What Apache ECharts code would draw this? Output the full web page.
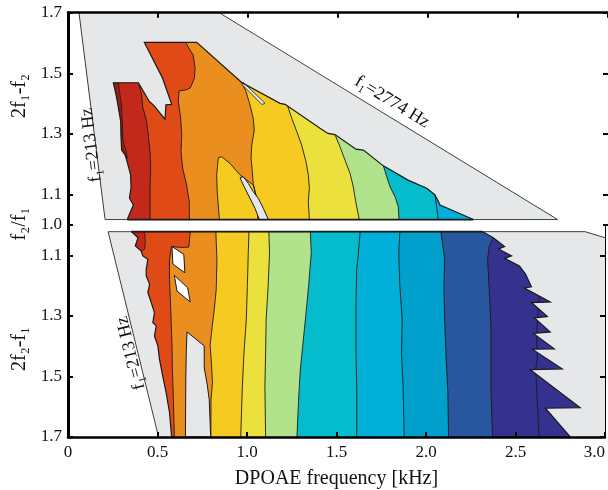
<!DOCTYPE html>
<html>
<head>
<meta charset="utf-8">
<script src="https://cdn.jsdelivr.net/npm/echarts@6/dist/echarts.min.js"></script>
<style>
  html, body { margin: 0; padding: 0; background: #fff; }
  #chart { width: 608px; height: 490px; }
</style>
</head>
<body>
<div id="chart"></div>
<script>
// x = DPOAE frequency [kHz], y = f2/f1
// ---- upper panel (2f1-f2) ----
var upperDomain = [[0.061, 1.7], [0.84, 1.7], [2.72, 1.018], [0.206, 1.018]]
var upperEdge = [
  [0.329, 1.018], [0.363, 1.066], [0.341, 1.089], [0.350, 1.122], [0.348, 1.165], [0.326, 1.214],
  [0.317, 1.231], [0.298, 1.247], [0.294, 1.297], [0.293, 1.341], [0.279, 1.390], [0.267, 1.429],
  [0.252, 1.469], [0.391, 1.469], [0.452, 1.407], [0.474, 1.396], [0.539, 1.349], [0.544, 1.396],
  [0.576, 1.398], [0.524, 1.486], [0.424, 1.602], [0.715, 1.602], [0.965, 1.470], [1.178, 1.401],
  [1.206, 1.398], [1.400, 1.319], [1.444, 1.302], [1.483, 1.298], [1.600, 1.250], [1.641, 1.247],
  [1.752, 1.195], [1.889, 1.148], [1.993, 1.121], [2.039, 1.099], [2.067, 1.066], [2.252, 1.018]
]
var upperC1 = [[0.391, 1.469], [0.400, 1.451], [0.409, 1.429], [0.415, 1.390], [0.437, 1.341], [0.446, 1.297], [0.456, 1.242], [0.459, 1.187], [0.456, 1.132], [0.456, 1.018]]
var upperC2 = [[0.656, 1.599], [0.678, 1.577], [0.696, 1.560], [0.706, 1.517], [0.702, 1.484], [0.687, 1.462], [0.678, 1.451], [0.650, 1.445], [0.617, 1.442], [0.613, 1.407], [0.626, 1.352], [0.632, 1.297], [0.628, 1.242], [0.637, 1.187], [0.659, 1.132], [0.674, 1.077], [0.674, 1.018]]
var upperC3 = [[0.965, 1.470], [0.989, 1.440], [1.011, 1.396], [1.029, 1.352], [1.035, 1.313], [1.021, 1.264], [1.017, 1.220], [1.024, 1.176], [1.029, 1.137], [1.044, 1.099], [1.057, 1.018]]
var upperC4 = [[1.218, 1.396], [1.243, 1.352], [1.271, 1.308], [1.298, 1.264], [1.322, 1.209], [1.335, 1.165], [1.341, 1.121], [1.335, 1.077], [1.341, 1.018]]
var upperC5 = [[1.483, 1.298], [1.511, 1.258], [1.539, 1.214], [1.567, 1.170], [1.585, 1.126], [1.594, 1.093], [1.604, 1.060], [1.618, 1.018]]
var upperC6 = [[1.752, 1.195], [1.771, 1.159], [1.789, 1.126], [1.817, 1.093], [1.835, 1.060], [1.839, 1.018]]
var upperC7 = [[2.039, 1.099], [2.048, 1.060], [2.057, 1.018]]
var upperTongue = [[0.841, 1.018], [0.829, 1.110], [0.826, 1.165], [0.835, 1.222], [0.854, 1.225], [0.900, 1.203], [0.956, 1.165], [1.029, 1.132], [1.044, 1.099], [1.057, 1.018]]
var upperHole = [[0.956, 1.156], [0.974, 1.159], [1.002, 1.137], [1.029, 1.110], [1.057, 1.088], [1.085, 1.055], [1.113, 1.018], [1.063, 1.018], [1.039, 1.055], [1.011, 1.088], [0.983, 1.121], [0.965, 1.143]]
var upperSlit = [[0.972, 1.471], [1.094, 1.402], [1.078, 1.397], [0.967, 1.463]]
var upperDarkest = [[0.252, 1.469], [0.280, 1.468], [0.296, 1.400], [0.302, 1.340], [0.305, 1.280], [0.322, 1.245], [0.330, 1.220], [0.317, 1.231], [0.298, 1.247], [0.294, 1.297], [0.293, 1.341], [0.279, 1.390], [0.267, 1.429]]

// ---- lower panel (2f2-f1) ----
var lowerDomainLeft = [[0.224, 1.022], [0.506, 1.7]]
var lowerDomainRight = [[2.889, 1.022], [3.0, 1.042]]
var lowerLeftEdge = [
  [0.354, 1.022], [0.391, 1.042], [0.376, 1.069], [0.409, 1.086], [0.418, 1.102], [0.446, 1.113],
  [0.437, 1.146], [0.437, 1.168], [0.456, 1.196], [0.446, 1.223], [0.465, 1.256], [0.483, 1.289],
  [0.474, 1.322], [0.493, 1.333], [0.483, 1.366], [0.502, 1.399], [0.511, 1.443], [0.529, 1.498],
  [0.548, 1.553], [0.567, 1.619], [0.579, 1.7]
]
var lowerRightEdge = [
  [2.317, 1.022], [2.378, 1.043], [2.439, 1.071], [2.406, 1.079], [2.478, 1.102], [2.439, 1.110],
  [2.522, 1.135], [2.556, 1.162], [2.589, 1.204], [2.550, 1.208], [2.694, 1.254], [2.589, 1.256],
  [2.678, 1.302], [2.606, 1.307], [2.694, 1.353], [2.600, 1.358], [2.717, 1.409], [2.594, 1.410],
  [2.761, 1.475], [2.583, 1.478], [2.861, 1.603], [2.667, 1.605], [2.806, 1.7]
]
var lowerC2 = [[0.683, 1.022], [0.679, 1.049], [0.675, 1.073], [0.628, 1.074], [0.578, 1.071], [0.567, 1.115], [0.567, 1.181], [0.572, 1.247], [0.576, 1.313], [0.581, 1.396], [0.583, 1.478], [0.589, 1.577], [0.594, 1.7]]
var lowerC3 = [[0.826, 1.022], [0.832, 1.115], [0.828, 1.214], [0.817, 1.280], [0.806, 1.333], [0.794, 1.396], [0.800, 1.445], [0.807, 1.520], [0.799, 1.577], [0.798, 1.7]]
var lowerC4 = [[1.011, 1.022], [1.007, 1.093], [1.002, 1.203], [0.996, 1.313], [0.983, 1.423], [0.974, 1.533], [0.971, 1.588], [0.965, 1.7]]
var lowerC5 = [[1.122, 1.022], [1.126, 1.092], [1.118, 1.203], [1.107, 1.313], [1.104, 1.423], [1.100, 1.533], [1.104, 1.7]]
var lowerC6 = [[1.354, 1.022], [1.359, 1.092], [1.344, 1.203], [1.326, 1.313], [1.311, 1.401], [1.298, 1.478], [1.289, 1.566], [1.279, 1.7]]
var lowerC7 = [[1.632, 1.022], [1.622, 1.093], [1.613, 1.148], [1.609, 1.257], [1.609, 1.423], [1.613, 1.533], [1.613, 1.7]]
var lowerC8 = [[1.854, 1.022], [1.848, 1.093], [1.854, 1.203], [1.867, 1.313], [1.863, 1.423], [1.872, 1.533], [1.878, 1.7]]
var lowerC9 = [[2.083, 1.022], [2.094, 1.069], [2.104, 1.113], [2.100, 1.203], [2.104, 1.311], [2.113, 1.443], [2.122, 1.553], [2.126, 1.7]]
var lowerC10 = [[2.372, 1.022], [2.372, 1.047], [2.354, 1.069], [2.344, 1.113], [2.354, 1.223], [2.363, 1.333], [2.363, 1.443], [2.363, 1.553], [2.372, 1.7]]
var lowerC11 = [[2.632, 1.234], [2.622, 1.311], [2.618, 1.388], [2.622, 1.443], [2.613, 1.476], [2.632, 1.7]]
var lowerDarkRed = [[0.354, 1.022], [0.428, 1.022], [0.432, 1.053], [0.428, 1.080], [0.409, 1.086], [0.376, 1.069], [0.391, 1.042]]
var lowerBox1 = [[0.581, 1.071], [0.647, 1.097], [0.653, 1.158], [0.586, 1.129]]
var lowerBox2 = [[0.594, 1.166], [0.668, 1.207], [0.683, 1.254], [0.609, 1.218]]
var lowerWedge = [[0.665, 1.353], [0.761, 1.399], [0.761, 1.471], [0.778, 1.528], [0.789, 1.577], [0.797, 1.7], [0.656, 1.7], [0.658, 1.511], [0.661, 1.412]]

var yTicksUpper = [1.0, 1.1, 1.3, 1.5, 1.7]
var yTicksLower = [1.1, 1.3, 1.5, 1.7]

// colours of the filled levels, low to high frequency
var C = {
  darkest: '#9e1d13', darkred: '#c3291a', red: '#e04a17', orange: '#ea8f1f', gold: '#f5cb22',
  yellow: '#ece03d', green: '#b1e38d', cyan: '#05bccc', lblue: '#00b0d9', blue: '#009fcc',
  mblue: '#28579f', indigo: '#35318f', gray: '#e6e7e9'
}
var LINE = '#1a1a1a'
var SERIF = '"Liberation Serif", "DejaVu Serif", serif'

function band(line, yA, yB, color) {
  var pts = line.slice()
  if (pts[0][1] !== yA) pts.unshift([pts[0][0], yA])
  return { pts: pts.concat([[3, yB], [3, yA]]), fill: color }
}
function rect(yA, yB, color) {
  return { pts: [[0, yA], [3, yA], [3, yB], [0, yB]], fill: color }
}
function stroke(pts, w) {
  return { pts: pts, stroke: LINE, width: w }
}
function extend(line, yA) {
  return line[0][1] === yA ? line : [[line[0][0], yA]].concat(line)
}

// upper panel, painted in order
var uC = [upperC1, upperC2, upperC3, upperC4, upperC5, upperC6, upperC7]
var uColors = [C.red, C.orange, C.gold, C.yellow, C.green, C.cyan, C.lblue]
var upperShapes = [rect(1.7, 1.018, C.darkred)]
uC.forEach(function (c, i) { upperShapes.push(band(c, 1.7, 1.018, uColors[i])) })
upperShapes.push({ pts: upperTongue, fill: C.gold })
upperShapes.push({ pts: upperDarkest, fill: C.darkest, stroke: LINE, width: 0.8 })
uC.forEach(function (c) { upperShapes.push(stroke(extend(c, 1.7), 0.9)) })
upperShapes.push(stroke(upperTongue, 0.9))
upperShapes.push({ pts: [[0, 1.7], upperDomain[0], upperDomain[3], [upperDomain[3][0], 1.0], [0, 1.0]], fill: '#fff' })
upperShapes.push({ pts: [upperDomain[1], [3, 1.7], [3, 1.0], [upperDomain[2][0], 1.0], upperDomain[2]], fill: '#fff' })
upperShapes.push({
  pts: [upperDomain[0], upperDomain[1], upperDomain[2]].concat(upperEdge.slice().reverse(), [upperDomain[3]]),
  fill: C.gray
})
upperShapes.push(rect(1.018, 1.0, '#fff'))
upperShapes.push({ pts: upperHole, fill: C.gray, stroke: LINE, width: 1 })
upperShapes.push({ pts: upperSlit, fill: C.gray, stroke: LINE, width: 0.8 })
upperShapes.push(stroke(upperEdge, 1.2))
upperShapes.push(stroke([upperDomain[3], upperDomain[2]], 0.8))
upperShapes.push(stroke([upperEdge[0], upperEdge[upperEdge.length - 1]], 1.8))
upperShapes.push(stroke([upperDomain[0], upperDomain[3]], 0.8))
upperShapes.push(stroke([upperDomain[1], upperDomain[2]], 0.8))

// lower panel, painted in order
var lC = [lowerC2, lowerC3, lowerC4, lowerC5, lowerC6, lowerC7, lowerC8, lowerC9, lowerC10]
var lColors = [C.orange, C.gold, C.yellow, C.green, C.cyan, C.lblue, C.blue, C.mblue, C.indigo]
var lowerShapes = [rect(1.022, 1.7, C.red)]
lC.forEach(function (c, i) { lowerShapes.push(band(c, 1.022, 1.7, lColors[i])) })
lowerShapes.push({ pts: lowerDarkRed, fill: C.darkred, stroke: LINE, width: 0.8 })
lC.forEach(function (c) { lowerShapes.push(stroke(c, 0.9)) })
lowerShapes.push(stroke(lowerC11, 0.9))
lowerShapes.push({ pts: [[0, 1.0], [lowerDomainLeft[0][0], 1.0], lowerDomainLeft[0], lowerDomainLeft[1], [0, 1.7]], fill: '#fff' })
lowerShapes.push({ pts: [[lowerDomainRight[0][0], 1.0], [3, 1.0], lowerDomainRight[1], lowerDomainRight[0]], fill: '#fff' })
lowerShapes.push({ pts: [lowerDomainLeft[0]].concat(lowerLeftEdge, [lowerDomainLeft[1]]), fill: C.gray })
lowerShapes.push({ pts: lowerRightEdge.concat([[3, 1.7], lowerDomainRight[1], lowerDomainRight[0]]), fill: C.gray })
lowerShapes.push(rect(1.0, 1.022, '#fff'))
lowerShapes.push({ pts: lowerWedge, fill: C.gray, stroke: LINE, width: 1 })
lowerShapes.push({ pts: lowerBox1, fill: '#fff', stroke: LINE, width: 1 })
lowerShapes.push({ pts: lowerBox2, fill: '#fff', stroke: LINE, width: 1 })
lowerShapes.push(stroke(lowerLeftEdge, 1.2))
lowerShapes.push(stroke(lowerRightEdge, 1.2))
lowerShapes.push(stroke([lowerDomainLeft[0], lowerDomainRight[0], lowerDomainRight[1]], 0.8))
lowerShapes.push(stroke([lowerLeftEdge[0], lowerRightEdge[0]], 1.8))
lowerShapes.push(stroke(lowerDomainLeft, 0.8))

function panelSeries(shapes, xi, yi) {
  return {
    type: 'custom',
    xAxisIndex: xi,
    yAxisIndex: yi,
    clip: true,
    silent: true,
    z: 2,
    data: shapes.map(function (s) { return [s.pts[0][0], s.pts[0][1]] }),
    renderItem: function (params, api) {
      var s = shapes[params.dataIndex]
      var pts = s.pts.map(function (p) { return api.coord(p) })
      if (s.fill) {
        return {
          type: 'polygon',
          z2: params.dataIndex,
          shape: { points: pts },
          style: { fill: s.fill, stroke: s.stroke || null, lineWidth: s.width || 0 }
        }
      }
      return {
        type: 'polyline',
        z2: params.dataIndex,
        shape: { points: pts },
        style: { fill: null, stroke: s.stroke, lineWidth: s.width }
      }
    }
  }
}

function xAxis(grid, pos, labels) {
  return {
    gridIndex: grid, type: 'value', min: 0, max: 3, interval: 0.5, position: pos, z: 10,
    axisLine: { onZero: false, lineStyle: { color: '#000', width: 2.5 } },
    axisTick: { inside: true, length: 5, lineStyle: { color: '#000', width: 2 } },
    splitLine: { show: false },
    axisLabel: {
      show: labels, margin: 7, fontSize: 17, fontFamily: SERIF, color: '#111',
      alignMaxLabel: 'right',
      formatter: function (v) { return v === 0 ? '0' : v.toFixed(1) }
    },
    name: labels ? 'DPOAE frequency [kHz]' : '',
    nameLocation: 'middle',
    nameGap: 32,
    nameTextStyle: { fontSize: 20, fontFamily: SERIF, color: '#111' }
  }
}
function yAxis(grid, pos, inverse, ticks, labels) {
  return {
    gridIndex: grid, type: 'value', min: 1.0, max: 1.7, inverse: inverse, position: pos, z: 10,
    axisLine: { onZero: false, lineStyle: { color: '#000', width: pos === 'left' ? 3 : 1 } },
    axisTick: { inside: true, length: 5, customValues: ticks, lineStyle: { color: '#000', width: 2 } },
    splitLine: { show: false },
    axisLabel: {
      show: labels, customValues: ticks, margin: 6, fontSize: 17, fontFamily: SERIF, color: '#111',
      formatter: function (v) { return v.toFixed(1) }
    }
  }
}

function label(text, x, y, rot, size) {
  return {
    type: 'text', x: x, y: y, rotation: rot, z: 100,
    style: { text: text, fontSize: size, fontFamily: SERIF, fill: '#111', align: 'center', verticalAlign: 'middle' }
  }
}

var chart = echarts.init(document.getElementById('chart'))
chart.setOption({
  animation: false,
  backgroundColor: '#fff',
  grid: [
    { show: false, left: 68, right: 0, top: 12.7, height: 212.3 },
    { show: false, left: 68, right: 0, top: 225, height: 212.5 }
  ],
  xAxis: [xAxis(0, 'top', false), xAxis(1, 'bottom', true)],
  yAxis: [
    yAxis(0, 'left', false, yTicksUpper, true),
    yAxis(0, 'right', false, yTicksUpper, false),
    yAxis(1, 'left', true, yTicksLower, true),
    yAxis(1, 'right', true, yTicksLower, false)
  ],
  series: [panelSeries(upperShapes, 0, 0), panelSeries(lowerShapes, 1, 2)],
  graphic: [
    label('2f\u2081-f\u2082', 20, 96, Math.PI / 2, 20),
    label('f\u2082/f\u2081', 20, 224, Math.PI / 2, 20),
    label('2f\u2082-f\u2081', 20, 349, Math.PI / 2, 20),
    label('f\u2081=213 Hz', 91.5, 145, 1.696, 18),
    label('f\u2081=213 Hz', 131, 353, 1.814, 18),
    label('f\u2081=2774 Hz', 392, 102, -0.55, 18)
  ]
})
</script>
</body>
</html>
